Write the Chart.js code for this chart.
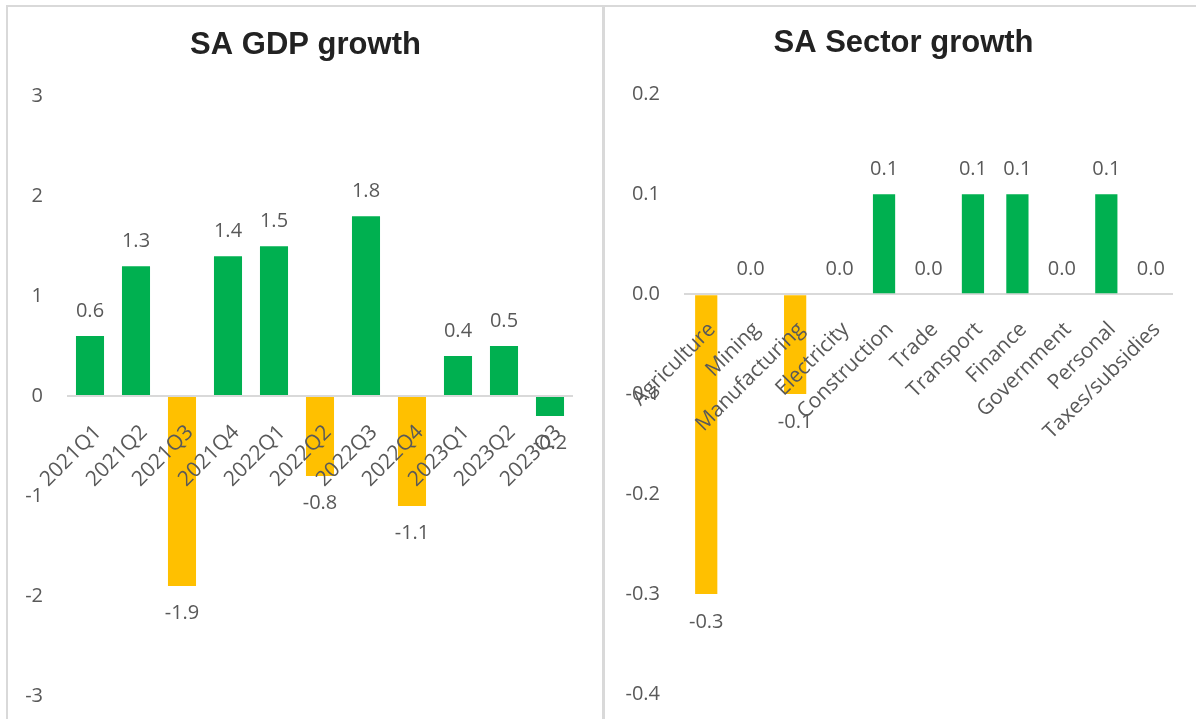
<!DOCTYPE html>
<html>
<head>
<meta charset="utf-8">
<script src="https://cdn.jsdelivr.net/npm/chart.js@4.4.1/dist/chart.umd.min.js"></script>
<style>
  html, body { margin: 0; padding: 0; background: #fff; overflow: hidden; }
  body { width: 1196px; height: 719px; position: relative; }
  .rule { position: absolute; background: #D9D9D9; }
  canvas { position: absolute; }
</style>
</head>
<body>
<div class="rule" style="left:6px; top:5px; width:1200px; height:2px;"></div>
<div class="rule" style="left:6px; top:5px; width:2px; height:720px;"></div>
<div class="rule" style="left:602px; top:5px; width:3px; height:720px;"></div>
<canvas id="gdp" width="595" height="711" style="left:8px; top:8px;"></canvas>
<canvas id="sector" width="597" height="711" style="left:605px; top:8px;"></canvas>
<script>
// Quarterly GDP growth, %
const quarters = ['2021Q1', '2021Q2', '2021Q3', '2021Q4', '2022Q1', '2022Q2', '2022Q3', '2022Q4', '2023Q1', '2023Q2', '2023Q3'];
const gdpGrowth = [0.6, 1.3, -1.9, 1.4, 1.5, -0.8, 1.8, -1.1, 0.4, 0.5, -0.2];
const gdpTicks = [3, 2, 1, 0, -1, -2, -3];

// Contribution by sector, percentage points
const sectors = ['Agriculture', 'Mining', 'Manufacturing', 'Electricity', 'Construction', 'Trade', 'Transport', 'Finance', 'Government', 'Personal', 'Taxes/subsidies'];
const sectorGrowth = [-0.3, 0.0, -0.1, 0.0, 0.1, 0.0, 0.1, 0.1, 0.0, 0.1, 0.0];
const sectorTicks = [0.2, 0.1, 0.0, -0.1, -0.2, -0.3, -0.4];

const GREEN = '#00B050';
const AMBER = '#FFC000';
const gdpColours = [GREEN, GREEN, AMBER, GREEN, GREEN, AMBER, GREEN, AMBER, GREEN, GREEN, GREEN];
const sectorColours = sectorGrowth.map(v => v < 0 ? AMBER : GREEN);

const TEXT = '#595959';
const FONT = '"Open Sans", "Noto Sans", sans-serif';
const FONT_SIZE = 20;
const CATEGORY_FONT_SIZE = 21;

// Category names sit just under the zero line, rotated 45°, and every bar gets its value
const barLabels = {
  id: 'barLabels',
  afterDatasetsDraw(chart, args, opts) {
    const { ctx } = chart;
    const xs = chart.scales.x;
    const ys = chart.scales.y;
    const zero = ys.getPixelForValue(0);
    ctx.save();
    ctx.fillStyle = TEXT;

    ctx.font = `${CATEGORY_FONT_SIZE}px ${FONT}`;
    ctx.textAlign = 'right';
    ctx.textBaseline = 'middle';
    chart.data.labels.forEach((name, i) => {
      const px = xs.getPixelForValue(i);
      ctx.save();
      ctx.translate(px + opts.dx, zero + opts.dy);
      ctx.rotate(-Math.PI / 4);
      ctx.fillText(name, 0, 0);
      ctx.restore();
    });

    ctx.font = `${FONT_SIZE}px ${FONT}`;
    ctx.textAlign = 'center';
    const values = chart.data.datasets[0].data;
    chart.getDatasetMeta(0).data.forEach((bar, i) => {
      const v = values[i];
      const y = v >= 0 ? bar.y - opts.above : bar.y + opts.below;
      ctx.fillText(v.toFixed(opts.decimals), bar.x, y);
    });
    ctx.restore();
  }
};

function makeChart(id, cfg) {
  return new Chart(document.getElementById(id), {
    type: 'bar',
    data: {
      labels: cfg.labels,
      datasets: [{
        data: cfg.values,
        backgroundColor: cfg.colours,
        borderWidth: 0,
        barPercentage: cfg.barPct,
        categoryPercentage: 1
      }]
    },
    options: {
      responsive: false,
      animation: false,
      events: [],
      layout: { padding: { left: 0, right: 0, top: 0, bottom: cfg.bottomPad } },
      scales: {
        x: { type: 'category', display: false, offset: true },
        y: {
          min: cfg.min,
          max: cfg.max,
          afterFit: s => {
            s.width = cfg.axisWidth;
            s.paddingTop = 0;
            s.paddingBottom = 0;
          },
          afterBuildTicks: s => { s.ticks = cfg.ticks.map(v => ({ value: v })); },
          border: { display: false },
          grid: {
            drawTicks: false,
            lineWidth: c => Math.abs(c.tick.value) < 1e-9 ? 2 : 0,
            color: c => Math.abs(c.tick.value) < 1e-9 ? '#D9D9D9' : 'rgba(0,0,0,0)'
          },
          ticks: {
            padding: 24,
            color: TEXT,
            font: { family: FONT, size: FONT_SIZE },
            callback: v => cfg.tickFormat(v)
          }
        },
        // empty right-hand margin so the plot keeps clear of the frame
        margin: {
          type: 'linear',
          position: 'right',
          min: cfg.min,
          max: cfg.max,
          grid: { display: false },
          border: { display: false },
          ticks: { display: false },
          afterFit: s => {
            s.width = cfg.rightMargin;
            s.paddingTop = 0;
            s.paddingBottom = 0;
          }
        }
      },
      plugins: {
        legend: { display: false },
        tooltip: { enabled: false },
        title: {
          display: true,
          text: cfg.title,
          color: '#222222',
          font: { family: '"Liberation Sans", Arial, sans-serif', size: 31, weight: 'bold' },
          padding: cfg.titlePadding
        },
        barLabels: cfg.labelOpts
      }
    },
    plugins: [barLabels]
  });
}

makeChart('gdp', {
  title: 'SA GDP growth',
  labels: quarters,
  values: gdpGrowth,
  colours: gdpColours,
  ticks: gdpTicks,
  min: -3, max: 3,
  tickFormat: v => String(Math.round(v)),
  barPct: 0.61,
  axisWidth: 59,
  rightMargin: 30,
  bottomPad: 23,
  titlePadding: { top: 19, bottom: 32 },
  labelOpts: { dx: 8, dy: 33, above: 25, below: 27, decimals: 1 }
});

makeChart('sector', {
  title: 'SA Sector growth',
  labels: sectors,
  values: sectorGrowth,
  colours: sectorColours,
  ticks: sectorTicks,
  min: -0.4, max: 0.2,
  tickFormat: v => (Math.abs(v) < 1e-9 ? 0 : v).toFixed(1),
  barPct: 0.5,
  axisWidth: 79,
  rightMargin: 29,
  bottomPad: 25,
  titlePadding: { top: 17, bottom: 32 },
  labelOpts: { dx: 6, dy: 32, above: 25, below: 28, decimals: 1 }
});
</script>
</body>
</html>
